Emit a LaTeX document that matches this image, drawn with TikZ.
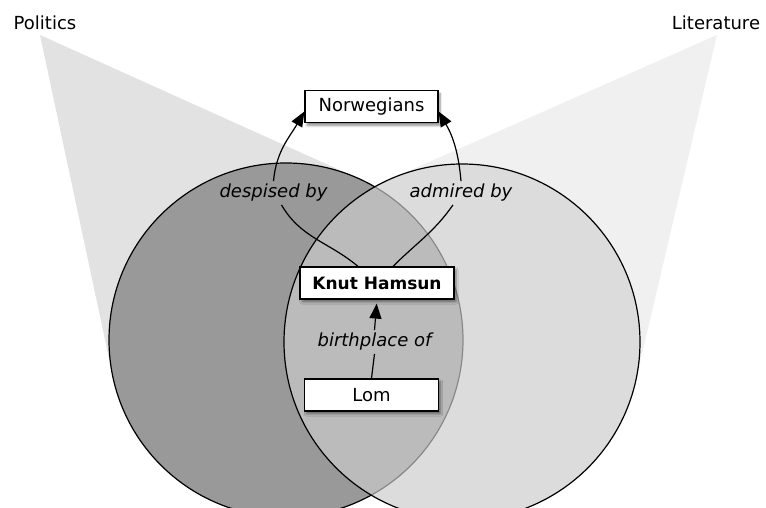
\documentclass[tikz,border=0pt]{standalone}
\usepackage{fontspec}
\setmainfont{DejaVu Sans}
\usetikzlibrary{arrows.meta,calc,shadows.blur}
\definecolor{polbeam}{gray}{0.885}
\definecolor{litbeam}{gray}{0.94}
\definecolor{leftring}{gray}{0.6}
\definecolor{rightring}{gray}{0.8}
\tikzset{
  entity/.style={draw,fill=white,line width=1.2pt,minimum height=32pt,inner sep=0pt,
    font=\fontsize{18}{21}\selectfont,
    blur shadow={shadow blur steps=6,shadow xshift=2pt,shadow yshift=-3pt,shadow opacity=45}},
  rel/.style={font=\fontsize{18}{21}\selectfont\itshape,inner sep=3pt},
  topic/.style={font=\fontsize{18}{21}\selectfont,inner sep=0pt},
  ring/.style={circle,inner sep=0pt,outer sep=0pt},
  link/.style={line width=1.2pt},
  tip/.style={-{Triangle[length=15pt,width=12pt]}}
}
\begin{document}
\begin{tikzpicture}[x=1pt,y=1pt]
\useasboundingbox (0,0) rectangle (766,508);
\clip (0,0) rectangle (766,508);

\node[topic] (pollabel) at (45,485) {Politics};
\node[topic] (litlabel) at (716,485) {Literature};
\coordinate (polapex) at (40,473);
\coordinate (litapex) at (717,473);

\node[ring,minimum size=354pt] (lc) at (286,168) {};
\node[ring,minimum size=356pt] (rc) at (462,166) {};

\fill[polbeam] (polapex) -- (tangent cs:node=lc,point={(polapex)},solution=1) -- (lc.center)
  -- (tangent cs:node=lc,point={(polapex)},solution=2) -- cycle;
\fill[litbeam] (litapex) -- (tangent cs:node=rc,point={(litapex)},solution=1) -- (rc.center)
  -- (tangent cs:node=rc,point={(litapex)},solution=2) -- cycle;

\fill[white] (rc.center) circle[radius=178pt];
\draw[line width=1.2pt,fill=leftring] (lc.center) circle[radius=177pt];
\draw[line width=1.2pt,fill=rightring,fill opacity=0.67] (rc.center) circle[radius=178pt];

\node[entity,minimum width=133pt] (norw) at (371.5,401.5) {Norwegians};
\node[entity,minimum width=154pt,font=\fontsize{17}{20}\selectfont\bfseries] (knut) at (377,225) {Knut Hamsun};
\node[entity,minimum width=134pt] (lom) at (371.5,113) {Lom};

\node[rel] (despised) at (273.5,315) {despised by};
\node[rel] (admired) at (461,315) {admired by};
\node[rel] (birthplace) at (374.5,166) {birthplace of};

\draw[link] ([xshift=-19pt]knut.north) to[out=140,in=-60] ([xshift=8pt]despised.south);
\draw[link,tip] (despised.north) to[out=85,in=-120] ($(norw.south west)!0.35!(norw.north west)$);
\draw[link] ([xshift=16pt]knut.north) to[out=45,in=-125] ([xshift=-8pt]admired.south);
\draw[link,tip] (admired.north) to[out=95,in=-60] ($(norw.south east)!0.35!(norw.north east)$);

\draw[link] (lom.north) -- (birthplace.south);
\draw[link,tip,shorten >=4pt] (birthplace.north) -- (knut.south);
\end{tikzpicture}
\end{document}
